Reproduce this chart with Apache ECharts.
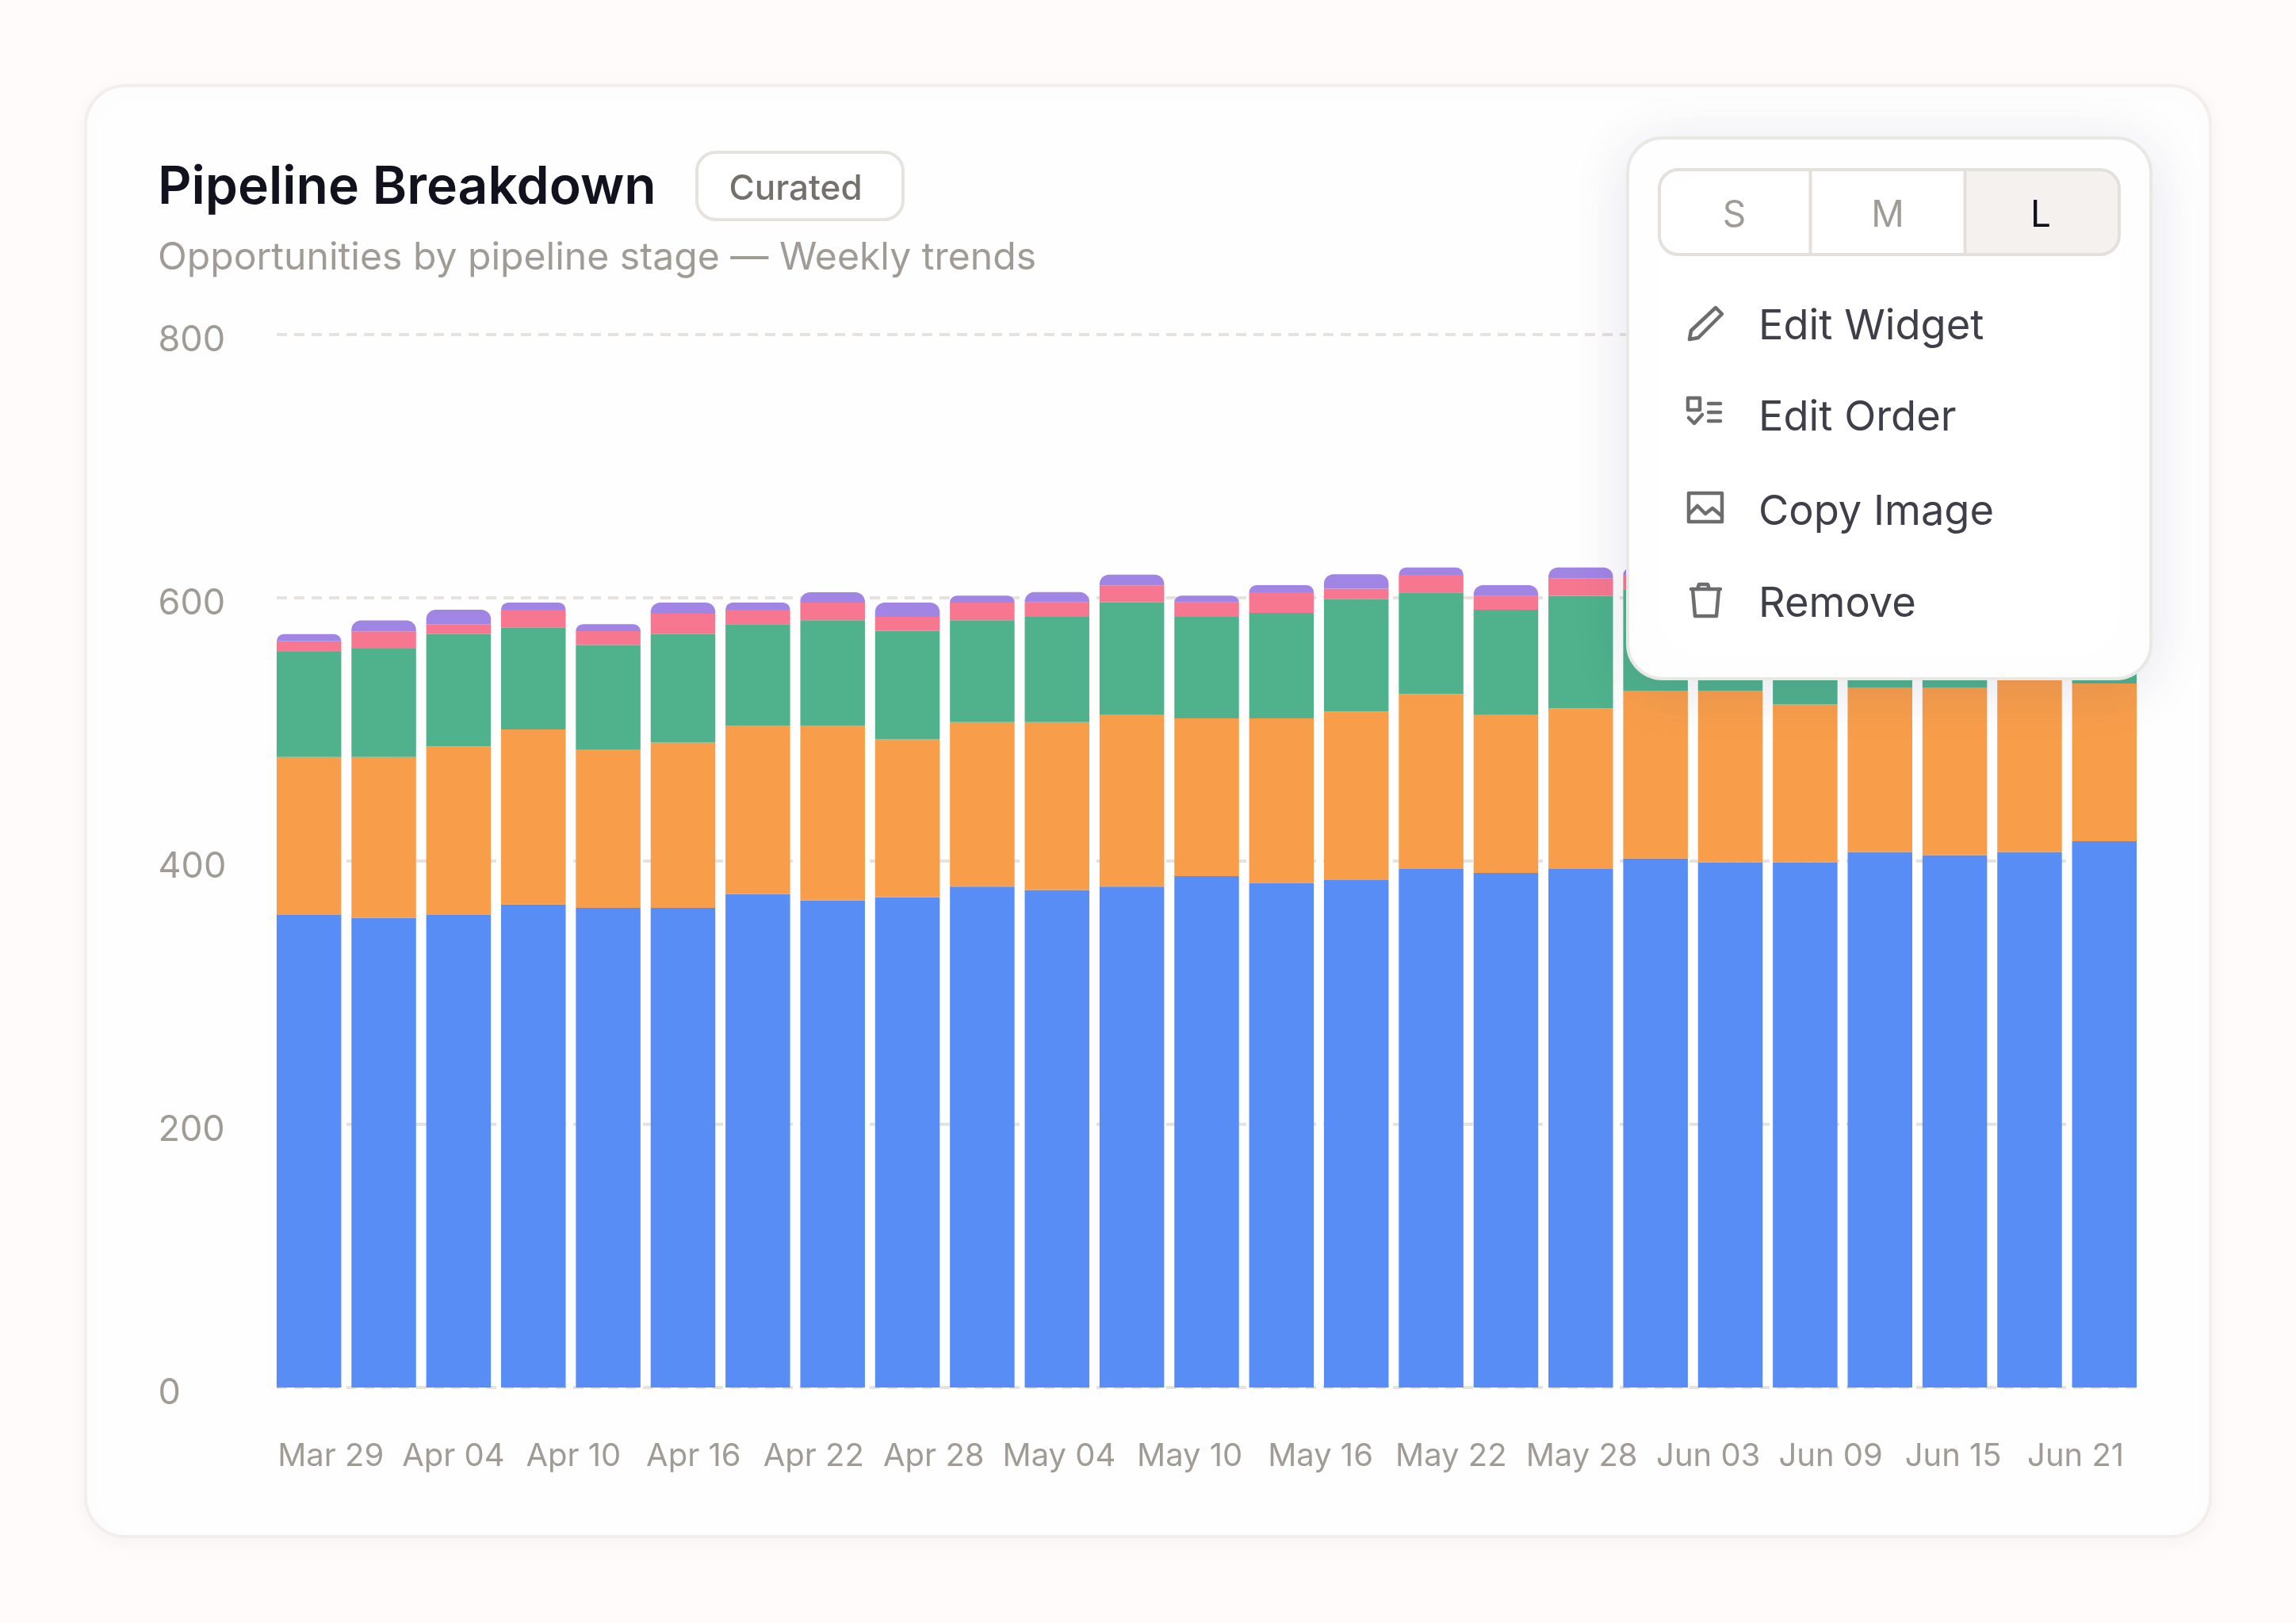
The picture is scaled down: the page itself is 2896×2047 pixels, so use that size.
<!DOCTYPE html>
<html><head><meta charset="utf-8">
<style>html,body{margin:0;padding:0;background:#fefbfa}#c{width:2896px;height:2047px}</style>
<script src="https://cdn.jsdelivr.net/npm/echarts@6/dist/echarts.min.js"></script>
</head><body><div id="c"></div>
<script>
const categories = ['Mar 29','Apr 01','Apr 04','Apr 08','Apr 11','Apr 15','Apr 18','Apr 22','Apr 25','Apr 29','May 02','May 06','May 09','May 13','May 16','May 20','May 23','May 27','May 30','Jun 03','Jun 06','Jun 10','Jun 13','Jun 17','Jun 21'];
const tickLabels = ['Mar 29','Apr 04','Apr 10','Apr 16','Apr 22','Apr 28','May 04','May 10','May 16','May 22','May 28','Jun 03','Jun 09','Jun 15','Jun 21'];
const stageA = [359,357,359,367,364.5,364.5,375,370,372.5,380.5,378,380.5,388.5,383.5,385.5,394,391,394,402,399,399,407,404.5,407,415];
const stageB = [120,122,128,133,120,125.5,128,133,120,125,127.5,130.5,120,125,128,133,120,122,127.5,130.5,120,125,127.5,133,120];
const stageC = [80,82.5,85.5,77.5,79.5,82.5,77,80,82.5,77.5,80,85.5,77,80,85.5,77,80,85.5,77,80,82.5,85.5,77,80,82.5];
const stageD = [8,13,7.5,13.5,10.7,15.5,11,13.4,10.5,13.4,11,13,11,15.7,8,13.5,10.4,13.4,11,10.5,13,8,13.5,11,13];
const stageE = [5.4,8.3,11,5.4,5.3,8.4,5.4,7.8,10.9,5.2,7.8,8.1,5.2,5.4,10.9,5.5,8.2,8.1,5.1,5.4,8,11,5.4,8,5.4];
const sizeOptions = ['S','M','L'];
const menuItems = ['Edit Widget','Edit Order','Copy Image','Remove'];

const FONT = 'Inter, "Noto Sans", sans-serif';
const MUTED = '#a09b94';
const LINE = '#e6e2de';
const ICON = '#6d6d6f';
const labelSize = 40;

// tick labels sit in a row with equal gaps between them; digits count as equal width
const FRAME_L = 349, FRAME_R = 2697.5, ROW_L = 349.5, ROW_R = 2684;
const mctx = document.createElement('canvas').getContext('2d');
mctx.font = labelSize + 'px ' + FONT;
const widths = tickLabels.map(t => mctx.measureText(t.replace(/\d/g,'0')).width);
const gap = (ROW_R - ROW_L - widths.reduce((a,b)=>a+b,0)) / (tickLabels.length - 1);
let cursor = ROW_L;
const tickCenters = widths.map(w => { const c = cursor + w/2; cursor += w + gap; return c; });
const labelAt = v => {
  let best = 0;
  tickCenters.forEach((c,i)=>{ if (Math.abs(c-v) < Math.abs(tickCenters[best]-v)) best = i; });
  return tickLabels[best];
};

const stages = [
  ['Stage A', stageA, '#588df5'],
  ['Stage B', stageB, '#f89e4b'],
  ['Stage C', stageC, '#4fb28c'],
  ['Stage D', stageD, '#f6778f'],
  ['Stage E', stageE, '#a085e5']
];

const stroke = {stroke: ICON, lineWidth: 4.5, fill: 'none', lineJoin:'round', lineCap:'round'};
const poly = (pts) => ({type:'polyline', z:103, shape:{points:pts}, style:stroke});
const text = (t, x, y, font, fill, align) => ({type:'text', z:103, style:{text:t, x, y, font, fill, align:align||'left', verticalAlign:'middle'}});

const menuY = [412.5, 527, 646.5, 762.5];
const segX = [2187.5, 2381, 2574];

const graphicEls = [
  {type:'rect', z:-10, shape:{x:108,y:108,width:2680,height:1830,r:50},
   style:{fill:'#fefefe', stroke:'#f3eeeb', lineWidth:4, shadowBlur:24, shadowColor:'rgba(120,90,70,0.05)', shadowOffsetY:6}},
  {type:'rect', z:-5, shape:{x:879,y:192,width:260,height:85,r:24}, style:{fill:'#fff', stroke:LINE, lineWidth:4}},
  text('Curated', 919.5, 239, '500 44px ' + FONT, '#74706c'),
  {type:'rect', z:100, shape:{x:2053,y:174,width:660,height:682,r:44},
   style:{fill:'#fff', stroke:'#eae8e5', lineWidth:4, shadowBlur:70, shadowColor:'rgba(70,60,130,0.13)', shadowOffsetY:10}},
  {type:'rect', z:101, shape:{x:2478,y:214,width:195,height:107,r:[0,24,24,0]}, style:{fill:'#f4f1ee'}},
  {type:'rect', z:102, shape:{x:2093,y:214,width:580,height:107,r:24}, style:{fill:'none', stroke:'#e4e0dc', lineWidth:4}},
  {type:'line', z:102, shape:{x1:2283.5,y1:214,x2:2283.5,y2:321}, style:{stroke:'#e4e0dc', lineWidth:4}},
  {type:'line', z:102, shape:{x1:2478.5,y1:214,x2:2478.5,y2:321}, style:{stroke:'#e4e0dc', lineWidth:4}},
  // pencil
  {type:'polygon', z:103, shape:{points:[[2131,428],[2133,417],[2164,388],[2172,396],[2142,426]]}, style:stroke},
  // checklist
  {type:'rect', z:103, shape:{x:2129,y:502,width:15,height:15}, style:stroke},
  {type:'line', z:103, shape:{x1:2155,y1:509,x2:2170,y2:509}, style:stroke},
  {type:'line', z:103, shape:{x1:2155,y1:520,x2:2170,y2:520}, style:stroke},
  {type:'line', z:103, shape:{x1:2155,y1:531,x2:2170,y2:531}, style:stroke},
  poly([[2130,527],[2137,534],[2147,523]]),
  // image
  {type:'rect', z:103, shape:{x:2130,y:622,width:42,height:36}, style:stroke},
  poly([[2131,648],[2141,638],[2151,648],[2160,641],[2172,651]]),
  // trash
  poly([[2133,743],[2170,743]]),
  poly([[2141,743],[2143,737],[2154,737],[2156,743]]),
  poly([[2135,743],[2138,777],[2165,777],[2168,743]])
];
sizeOptions.forEach((s,i)=> graphicEls.push(text(s, segX[i], 272, '46px ' + FONT, s==='L' ? '#12121f' : MUTED, 'center')));
menuItems.forEach((m,i)=> graphicEls.push(text(m, 2218, menuY[i], '52.4px ' + FONT, '#3f3f4a')));

const chart = echarts.init(document.getElementById('c'), null, {renderer:'canvas'});
chart.setOption({
  animation:false,
  backgroundColor:'transparent',
  title:[
    {text:'Pipeline Breakdown', left:194, top:199, textStyle:{fontFamily:FONT, fontSize:66, fontWeight:600, color:'#12121f'}},
    {text:'Opportunities by pipeline stage — Weekly trends', left:194, top:297, textStyle:{fontFamily:FONT, fontSize:48.1, fontWeight:400, color:MUTED}}
  ],
  grid:[
    {left:342.5, right:2896-2701.5, top:422, bottom:2047-1750, containLabel:false},
    {left:FRAME_L, right:2896-FRAME_R, top:422, bottom:2047-1750, containLabel:false}
  ],
  xAxis:[
    {type:'category', gridIndex:0, data:categories, axisLine:{show:false}, axisTick:{show:false}, axisLabel:{show:false}},
    {type:'value', gridIndex:1, min:FRAME_L, max:FRAME_R, axisLine:{show:false}, axisTick:{show:false}, splitLine:{show:false},
     axisLabel:{customValues:tickCenters, formatter:labelAt, color:MUTED, fontFamily:FONT, fontSize:labelSize, margin:67, hideOverlap:false, showMinLabel:true, showMaxLabel:true}}
  ],
  yAxis:[
    {type:'value', gridIndex:0, min:0, max:800, interval:200, axisLine:{show:false}, axisTick:{show:false}, splitLine:{show:false},
     axisLabel:{align:'left', margin:143, color:MUTED, fontFamily:FONT, fontSize:45, verticalAlign:'top', lineHeight:15}},
    {type:'value', gridIndex:1, min:0, max:800, interval:200, axisLine:{show:false}, axisTick:{show:false}, axisLabel:{show:false},
     splitLine:{show:true, lineStyle:{color:LINE, width:4, type:[13,9]}}}
  ],
  series: stages.map(([name, data, color], i) => ({
    name, type:'bar', stack:'pipeline', xAxisIndex:0, yAxisIndex:0, data, barWidth:81.5, z:5,
    itemStyle:{color, borderRadius: i===stages.length-1 ? [12,12,0,0] : 0}
  })),
  graphic:{elements:graphicEls}
});
</script></body></html>
